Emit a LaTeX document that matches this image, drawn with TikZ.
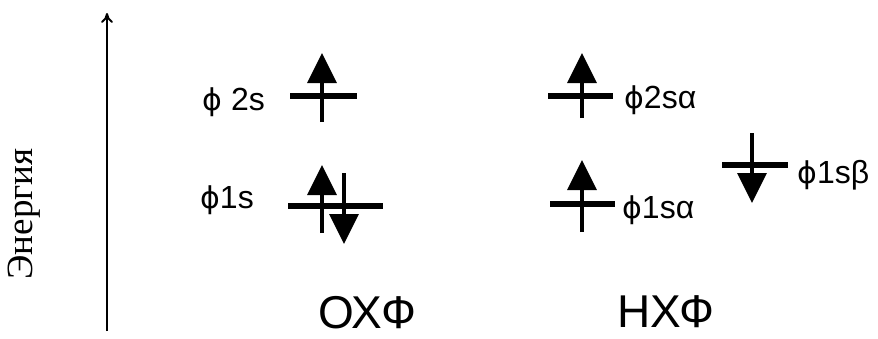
\documentclass[tikz,border=0pt]{standalone}
\usepackage{fontspec}
\setmainfont{Liberation Sans}
\newfontfamily\serifru{Liberation Serif}
\newfontfamily\dvs{DejaVu Sans}
\newcommand{\phisym}{{\dvs\fontsize{30}{36}\selectfont ϕ}}
\usetikzlibrary{arrows.meta}
\tikzset{
  level/.style={fill=black, draw=none, inner sep=0pt, minimum height=6pt},
  spinup/.style={line width=3.5pt, -{Triangle[length=30pt,width=29pt]}},
  lbl/.style={inner sep=0pt, font=\fontsize{32}{38}\selectfont},
  big/.style={inner sep=0pt, font=\fontsize{46}{54}\selectfont},
  axis/.style={line width=2pt, -{To[length=10pt,width=12pt]}}
}
\begin{document}
\begin{tikzpicture}[x=1pt,y=-1pt]
\useasboundingbox (0,0) rectangle (878,338);
% axis
\coordinate (axb) at (107,331);
\coordinate (axt) at (107,13);
\draw[axis] (axb) -- (axt);
\node[rotate=90, inner sep=0pt, font=\serifru\fontsize{37}{42}\selectfont] (energy) at (24,214) {Энергия};
% levels OXF
\node[level, minimum width=67pt] (l2s) at (323.5,96) {};
\node[level, minimum width=95pt] (l1s) at (335.5,206) {};
% levels NXF
\node[level, minimum width=65pt] (l2a) at (580.5,96) {};
\node[level, minimum width=65pt] (l1a) at (582.5,204) {};
\node[level, minimum width=66pt] (l1b) at (755,165) {};
% spins
\coordinate (s2b) at (322,122); \coordinate (s2t) at (322,53);
\draw[spinup] (s2b) -- (s2t);
\coordinate (s1ub) at (322,233); \coordinate (s1ut) at (322,165);
\draw[spinup] (s1ub) -- (s1ut);
\coordinate (s1dt) at (344,173); \coordinate (s1db) at (344,244);
\draw[spinup] (s1dt) -- (s1db);
\coordinate (a2b) at (582,118); \coordinate (a2t) at (582,53);
\draw[spinup] (a2b) -- (a2t);
\coordinate (a1b) at (582,232); \coordinate (a1t) at (582,160);
\draw[spinup] (a1b) -- (a1t);
\coordinate (b1t) at (752,133); \coordinate (b1b) at (752,203);
\draw[spinup] (b1t) -- (b1b);
% labels
\node[lbl, anchor=base east] (t2s) at (265,110) {\phisym\ 2s};
\node[lbl, anchor=base west] (t1s) at (200,208) {\phisym 1s};
\node[lbl, anchor=base west] (t2a) at (624,108) {\phisym 2sα};
\node[lbl, anchor=base west] (t1a) at (622,218) {\phisym 1sα};
\node[lbl, anchor=base west] (t1b) at (797,183) {\phisym 1sβ};
\node[big, anchor=base west] (oxf) at (318,328) {ОХФ};
\node[big, anchor=base west] (nxf) at (617,327) {НХФ};
\end{tikzpicture}
\end{document}
